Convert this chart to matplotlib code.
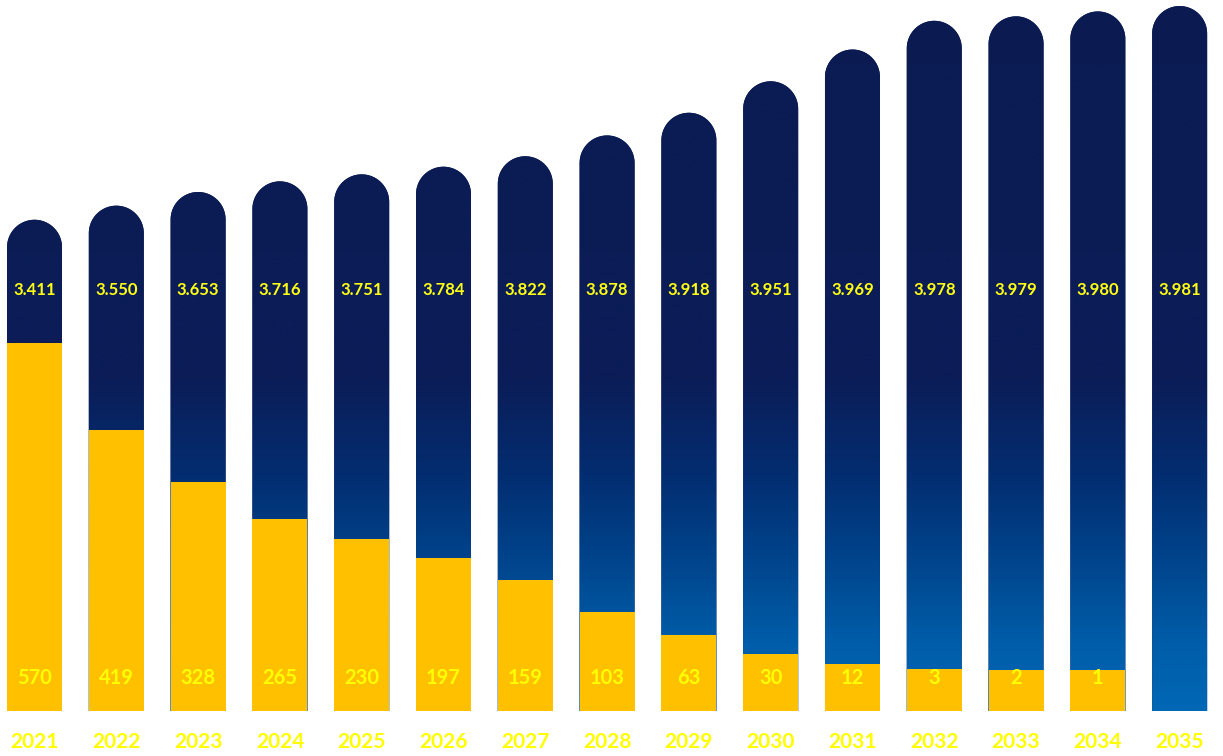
import numpy as np
import matplotlib
matplotlib.use("Agg")
import matplotlib.pyplot as plt
from matplotlib.colors import LinearSegmentedColormap
from matplotlib.patches import PathPatch
from matplotlib.path import Path
from matplotlib.transforms import IdentityTransform, blended_transform_factory

# ----------------------------- data -----------------------------

years = [2021, 2022, 2023, 2024, 2025, 2026, 2027, 2028,
         2029, 2030, 2031, 2032, 2033, 2034, 2035]
# navy bars (label uses '.' as thousands separator)
upper = [3411, 3550, 3653, 3716, 3751, 3784, 3822, 3878,
         3918, 3951, 3969, 3978, 3979, 3980, 3981]
# yellow bars (none in 2035)
lower = [570, 419, 328, 265, 230, 197, 159, 103,
         63, 30, 12, 3, 2, 1, np.nan]

NAVY = "#0B1B54"
GOLD = "#FFC000"
TXT = "#FFFF14"

# the source graphic is not drawn to scale: its navy bars follow the
# distance to a ceiling on a log axis, the yellow ones a linear axis
# whose zero sits a little above the baseline
CEIL = 3990


def fwd(v):
    return -np.log(np.clip(CEIL - np.asarray(v, dtype=float), 1e-9, None))


def inv(t):
    return CEIL - np.exp(-np.asarray(t, dtype=float))


# ----------------------------- figure -----------------------------

W, H, DPI = 1223, 756, 100
fig = plt.figure(figsize=(W / DPI, H / DPI), dpi=DPI)
fig.patch.set_facecolor("white")

base_px = 45
ax = fig.add_axes([0, base_px / H, 1, (H - base_px) / H])
ax2 = ax.twinx()
for a in (ax, ax2):
    a.set_axis_off()
    a.patch.set_visible(False)

x = np.arange(len(years))
bw = 0.672
XLIM = (-0.422, 14.53)
ax.set_xlim(*XLIM)
ax2.set_xlim(*XLIM)

ax.set_yscale("function", functions=(fwd, inv))
ax.set_ylim(-8.3e6, 3982)
ax2.set_ylim(-69.6, 1167)

# gradient shared by all navy bars (same vertical position on each bar)
cmap = LinearSegmentedColormap.from_list("bar", [
    (0.0, "#0068B6"), (0.1, "#005CA8"), (0.212, "#00448C"),
    (0.325, "#032E72"), (0.466, "#0B1D58"), (1.0, "#0B1B52")])
grad = np.linspace(0, 1, 512).reshape(-1, 1)

fig.canvas.draw()
bottom_disp = ax.transAxes.transform((0, 0))[1]
for xi, v in zip(x, upper):
    (x0, ytop) = ax.transData.transform((xi - bw / 2, v))
    (x1, _) = ax.transData.transform((xi + bw / 2, v))
    r = (x1 - x0) / 2
    cx, cy = (x0 + x1) / 2, ytop - r
    th = np.linspace(0, np.pi, 60)
    pts = [(x0, bottom_disp), (x1, bottom_disp), (x1, cy)]
    pts += list(zip(cx + r * np.cos(th), cy + r * np.sin(th)))
    pts += [(x0, bottom_disp)]
    pill = PathPatch(Path(pts, closed=True), transform=IdentityTransform(),
                     facecolor=NAVY, edgecolor="none", zorder=1)
    ax.add_patch(pill)
    im = ax.imshow(grad, extent=[0, 1, 0, 1], transform=ax.transAxes,
                   origin="lower", aspect="auto", cmap=cmap, zorder=2,
                   interpolation="bilinear")
    im.set_clip_path(pill)

ax.set_xlim(*XLIM)
ax.set_ylim(-8.3e6, 3982)

lo = ax2.get_ylim()[0]
low = np.array(lower, dtype=float)
ax2.bar(x, low - lo, bottom=lo, width=bw, color=GOLD, zorder=3)

tr = blended_transform_factory(ax2.transData, ax2.transAxes)
for xi, v, lv, yr in zip(x, upper, lower, years):
    ax2.text(xi, 0.592, f"{v / 1000:.3f}", transform=tr, ha="center",
             va="center", color=TXT, fontsize=12, fontweight="bold",
             family="Lato", zorder=5)
    if not np.isnan(lv):
        ax2.text(xi, 0.047, f"{int(lv)}", transform=tr, ha="center",
                 va="center", color="#FFFF00", fontsize=14.5,
                 fontweight="bold", family="Lato", zorder=5)
    ax2.text(xi, -0.043, str(yr), transform=tr, ha="center", va="center",
             color="#FFFF00", fontsize=15, fontweight="bold",
             family="Lato", clip_on=False, zorder=5)

fig.savefig("out.png", dpi=DPI, facecolor="white")
